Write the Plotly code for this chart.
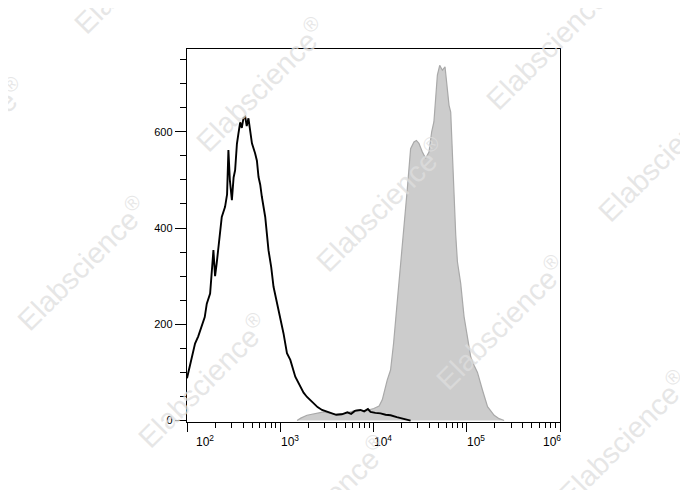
import plotly.graph_objects as go

# Unstained / isotype control (black outline)
ctrl_x = [100, 103, 112, 122, 132, 144, 155, 163, 177, 192, 200, 208, 221, 236, 256, 269, 278, 288,
          303, 316, 328, 343, 356, 372, 387, 403, 421, 437, 456, 479, 497, 538, 562, 585, 610, 635,
          690, 748, 800, 847, 902, 959, 1084, 1180, 1282, 1449, 1641, 1778, 1936, 2280, 2512, 2805,
          3162, 3597, 3981, 4571, 5248, 5754, 6310, 7244, 7943, 8710, 9290, 10470, 11890, 13490,
          15240, 17780, 21180, 25000]
ctrl_y = [88, 98, 130, 160, 175, 195, 215, 243, 264, 354, 300, 326, 380, 423, 444, 470, 562, 500,
          458, 505, 520, 575, 596, 620, 608, 628, 631, 612, 628, 600, 576, 555, 540, 506, 490, 465,
          423, 354, 319, 278, 255, 230, 181, 140, 126, 91, 70, 58, 49, 36, 28, 22,
          18, 15, 12, 13, 17, 14, 20, 22, 19, 24, 18, 16, 15, 12,
          11, 7, 4, 0]

# Stained sample (grey filled)
stain_x = [1514, 1660, 1936, 2377, 2924, 3899, 5000, 6683, 8204, 10070, 11480, 12420, 14030, 15240,
           16410, 17660, 19050, 20370, 21180, 23070, 25000, 27160, 28840, 30690, 33420, 36220, 39360,
           42070, 44460, 46450, 48420, 51290, 53090, 54830, 58480, 61940, 64570, 67300, 70150, 72950,
           76210, 79430, 86100, 93540, 101900, 110400, 119700, 130300, 147600, 167100, 196800,
           222300, 251800]
stain_y = [0, 5, 11, 15, 18, 13, 15, 22, 20, 25, 30, 43, 84, 105,
           160, 230, 300, 360, 390, 482, 565, 579, 582, 576, 558, 545, 558,
           600, 621, 676, 718, 738, 732, 728, 735, 690, 655, 641, 551, 448,
           385, 330, 285, 216, 170, 132, 115, 100, 63, 29, 11,
           4, 0]

x_major = [1e2, 1e3, 1e4, 1e5, 1e6]
x_labels = ["10<sup>2</sup>", "10<sup>3</sup>", "10<sup>4</sup>", "10<sup>5</sup>", "10<sup>6</sup>"]
x_label_pos = [2.193, 3.105, 4.102, 5.099, 5.914]
y_ticks = [0, 200, 400, 600]

watermark = "Elabscience<sup>®</sup>"
wm_pos = [(260, 85), (550, 43), (82, 263), (380, 205), (662, 155), (202, 381),
          (500, 323), (622, 438), (-40, 145), (138, -33), (322, 503)]

minor_x = [m * 10 ** e for e in range(2, 6) for m in range(2, 10)]

fig = go.Figure()
fig.add_trace(go.Scatter(x=stain_x, y=stain_y, mode="lines", fill="tozeroy",
                         fillcolor="#cccccc", line=dict(color="#a9a9a9", width=1.2),
                         hoverinfo="skip", showlegend=False))
fig.add_trace(go.Scatter(x=ctrl_x, y=ctrl_y, mode="lines",
                         line=dict(color="#000000", width=1.9),
                         hoverinfo="skip", showlegend=False))

# page body has an 8px margin, so the figure is drawn 8px in from the window corner
OFF = 8
W, H = 680, 482
ml, mt = 187 - OFF, 49 - OFF
pw, ph = 373, 373
mr, mb = W - ml - pw, H - mt - ph

annotations = []
for t, p in zip(x_labels, x_label_pos):
    annotations.append(dict(x=p, y=-0.025, xref="x", yref="paper", text=t, showarrow=False,
                            yanchor="top", xanchor="center",
                            font=dict(family="Liberation Sans, Arial", size=12, color="#000")))
for (px, py) in wm_pos:
    fx, fy = px - OFF, py - OFF
    annotations.append(dict(x=(fx - ml) / pw, y=(mt + ph - fy) / ph, xref="paper", yref="paper",
                            text=watermark, showarrow=False, textangle=-45,
                            xanchor="center", yanchor="middle",
                            font=dict(family="Liberation Sans, Arial", size=29,
                                      color="rgba(222,222,222,0.75)")))

fig.update_layout(
    width=W, height=H,
    margin=dict(l=ml, r=mr, t=mt, b=mb),
    paper_bgcolor="white", plot_bgcolor="white",
    annotations=annotations,
    xaxis=dict(type="log", range=[2, 6], tickvals=x_major, ticktext=["", "", "", "", ""],
               showline=True, linecolor="#000", linewidth=1.4, mirror=True,
               ticks="outside", ticklen=9, tickwidth=1.3, tickcolor="#000",
               showgrid=False, zeroline=False,
               minor=dict(tickvals=minor_x, ticks="outside", ticklen=5, tickwidth=1.1,
                          tickcolor="#000", showgrid=False)),
    yaxis=dict(range=[-3, 772], tickvals=y_ticks, ticktext=[str(v) for v in y_ticks],
               showline=True, linecolor="#000", linewidth=1.4, mirror=True,
               ticks="outside", ticklen=11, tickwidth=1.3, tickcolor="#000",
               showgrid=False, zeroline=False,
               tickfont=dict(family="Liberation Sans, Arial", size=11, color="#000"),
               minor=dict(dtick=50, ticks="outside", ticklen=6, tickwidth=1.1,
                          tickcolor="#000", showgrid=False)),
)

fig.write_html("out.html")
